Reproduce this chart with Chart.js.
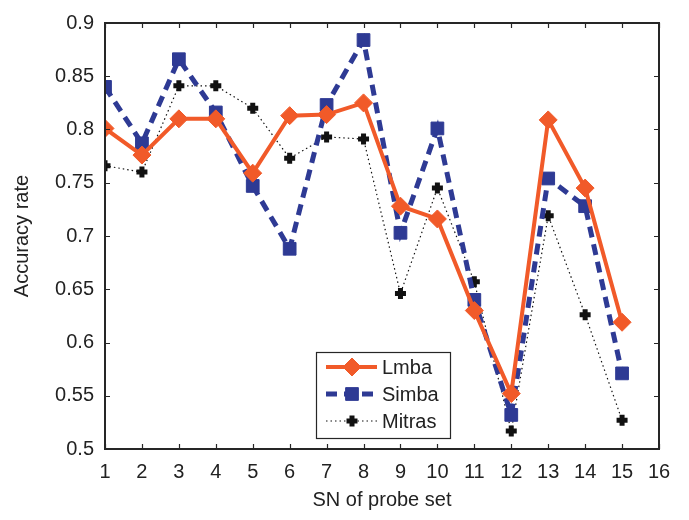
<!DOCTYPE html>
<html>
<head>
<meta charset="utf-8">
<script src="https://cdn.jsdelivr.net/npm/chart.js@4/dist/chart.umd.min.js"></script>
<style>
  html, body { margin: 0; padding: 0; background: #fff; }
  #wrap { width: 689px; height: 520px; }
</style>
</head>
<body>
<div id="wrap"><canvas id="chart" width="689" height="520"></canvas></div>
<script>
// probe set numbers
const probeSets = [1, 2, 3, 4, 5, 6, 7, 8, 9, 10, 11, 12, 13, 14, 15];

// accuracy rates
const lmba = [0.801, 0.776, 0.810, 0.810, 0.759, 0.813, 0.814, 0.825, 0.728, 0.716, 0.630, 0.552, 0.809, 0.745, 0.619];
const simba = [0.840, 0.787, 0.866, 0.816, 0.747, 0.688, 0.823, 0.884, 0.703, 0.801, 0.640, 0.532, 0.754, 0.728, 0.571];
const mitras = [0.766, 0.760, 0.841, 0.841, 0.820, 0.773, 0.793, 0.791, 0.646, 0.745, 0.657, 0.517, 0.719, 0.626, 0.527];

const xTicks = [1, 2, 3, 4, 5, 6, 7, 8, 9, 10, 11, 12, 13, 14, 15, 16];
const yTicks = [0.5, 0.55, 0.6, 0.65, 0.7, 0.75, 0.8, 0.85, 0.9];

const ORANGE = '#F15A29';
const BLUE = '#2E3A94';
const BLACK = '#111111';
const AXIS = '#262626';
const FONT = '"Liberation Sans", Arial, Helvetica, sans-serif';

const toPoints = (vals) => vals.map((v, i) => ({ x: probeSets[i], y: v }));

/**
 * MATLAB-like box with inward ticks
 */
const boxTicks = {
    id: 'boxTicks',
    afterDatasetsDraw(chart) {
        const { ctx, chartArea: a, scales } = chart;
        const len = 5;
        ctx.save();
        ctx.strokeStyle = AXIS;
        ctx.lineWidth = 1.2;
        ctx.beginPath();
        xTicks.forEach(t => {
            const px = Math.round(scales.x.getPixelForValue(t)) + 0.5;
            ctx.moveTo(px, a.bottom); ctx.lineTo(px, a.bottom - len);
            ctx.moveTo(px, a.top); ctx.lineTo(px, a.top + len);
        });
        yTicks.forEach(t => {
            const py = Math.round(scales.y.getPixelForValue(t)) + 0.5;
            ctx.moveTo(a.left, py); ctx.lineTo(a.left + len, py);
            ctx.moveTo(a.right, py); ctx.lineTo(a.right - len, py);
        });
        ctx.stroke();
        ctx.lineWidth = 2;
        ctx.strokeRect(a.left, a.top, a.right - a.left, a.bottom - a.top);
        ctx.restore();
    }
};

/**
 * Legend box drawn inside the plot, line + marker per series
 */
const boxLegend = {
    id: 'boxLegend',
    afterDraw(chart) {
        const { ctx } = chart;
        const x0 = 316, y0 = 352, w = 134, h = 86;
        ctx.save();
        ctx.fillStyle = '#fff';
        ctx.fillRect(x0, y0, w, h);
        ctx.strokeStyle = AXIS;
        ctx.lineWidth = 1.2;
        ctx.strokeRect(x0 + 0.5, y0 + 0.5, w, h);
        const rows = [y0 + 15, y0 + 42, y0 + 69];
        chart.data.datasets.forEach((ds, i) => {
            const y = rows[i];
            ctx.save();
            ctx.strokeStyle = ds.borderColor;
            ctx.lineWidth = ds.borderWidth;
            ctx.setLineDash(ds.borderDash || []);
            ctx.beginPath();
            ctx.moveTo(x0 + 10, y);
            ctx.lineTo(x0 + 61, y);
            ctx.stroke();
            ctx.restore();
            ctx.save();
            ctx.fillStyle = ds.pointBackgroundColor;
            ctx.strokeStyle = ds.pointBorderColor;
            ctx.lineWidth = ds.pointBorderWidth;
            Chart.helpers.drawPoint(ctx, {
                pointStyle: ds.pointStyle,
                radius: ds.pointRadius,
                borderWidth: ds.pointBorderWidth,
                rotation: 0
            }, x0 + 36, y);
            ctx.restore();
            ctx.fillStyle = '#222';
            ctx.font = '20px ' + FONT;
            ctx.textBaseline = 'middle';
            ctx.fillText(ds.label, x0 + 66, y + 1);
        });
        ctx.restore();
    }
};

new Chart(document.getElementById('chart'), {
    type: 'line',
    data: {
        datasets: [{
            label: 'Lmba',
            data: toPoints(lmba),
            borderColor: ORANGE,
            backgroundColor: ORANGE,
            borderWidth: 4,
            pointStyle: 'rectRot',
            pointRadius: 9,
            pointBorderWidth: 1,
            pointBackgroundColor: ORANGE,
            pointBorderColor: ORANGE,
            tension: 0
        }, {
            label: 'Simba',
            data: toPoints(simba),
            borderColor: BLUE,
            backgroundColor: BLUE,
            borderWidth: 5,
            borderDash: [11, 7],
            pointStyle: 'rect',
            pointRadius: 9,
            pointBorderWidth: 1,
            pointBackgroundColor: BLUE,
            pointBorderColor: BLUE,
            tension: 0
        }, {
            label: 'Mitras',
            data: toPoints(mitras),
            borderColor: BLACK,
            backgroundColor: BLACK,
            borderWidth: 1.2,
            borderDash: [1.5, 3],
            pointStyle: 'cross',
            pointRadius: 5.5,
            pointBorderWidth: 5,
            pointBackgroundColor: BLACK,
            pointBorderColor: BLACK,
            tension: 0
        }]
    },
    options: {
        responsive: false,
        animation: false,
        layout: { padding: { left: 0, right: 30, top: 12, bottom: 0 } },
        plugins: {
            legend: { display: false },
            tooltip: { enabled: false }
        },
        scales: {
            x: {
                type: 'linear',
                min: 1,
                max: 16,
                afterBuildTicks: (scale) => { scale.ticks = xTicks.map(v => ({ value: v })); },
                afterFit: (scale) => { scale.height = 71; },
                grid: { display: false, drawTicks: false },
                border: { display: false },
                ticks: {
                    color: '#222',
                    font: { family: FONT, size: 20 },
                    padding: 11,
                    maxRotation: 0,
                    autoSkip: false
                },
                title: {
                    display: true,
                    text: 'SN of probe set',
                    color: '#222',
                    font: { family: FONT, size: 20 },
                    padding: { top: 4, bottom: 8 }
                }
            },
            y: {
                min: 0.5,
                max: 0.9,
                afterBuildTicks: (scale) => { scale.ticks = yTicks.map(v => ({ value: v })); },
                afterFit: (scale) => { scale.width = 105; },
                grid: { display: false, drawTicks: false },
                border: { display: false },
                ticks: {
                    color: '#222',
                    font: { family: FONT, size: 20 },
                    padding: 11,
                    callback: (v) => String(parseFloat(v.toFixed(2)))
                },
                title: {
                    display: true,
                    text: 'Accuracy rate',
                    color: '#222',
                    font: { family: FONT, size: 20 },
                    padding: { top: 10, bottom: 4 }
                }
            }
        }
    },
    plugins: [boxTicks, boxLegend]
});
</script>
</body>
</html>
